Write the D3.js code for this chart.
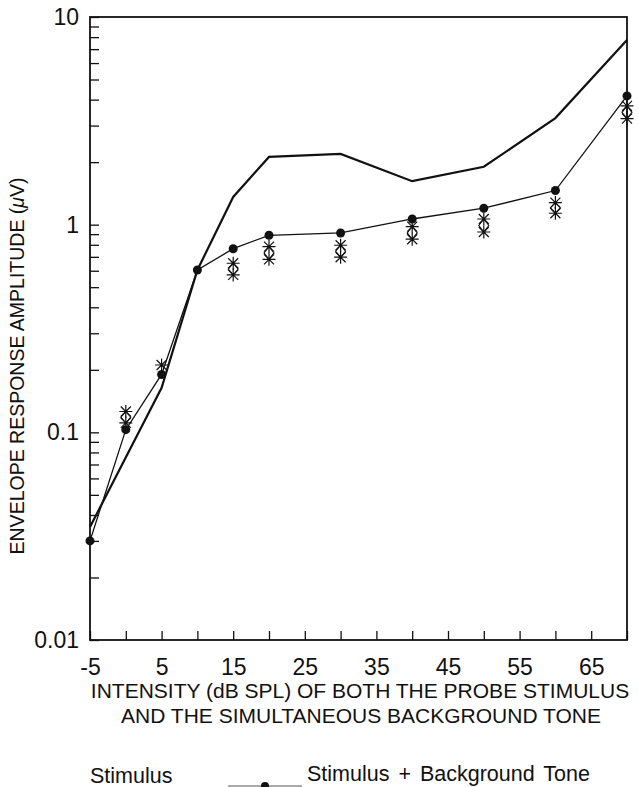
<!DOCTYPE html>
<html>
<head>
<meta charset="utf-8">
<script src="https://cdn.jsdelivr.net/npm/d3@7"></script>
<style>
  body { margin: 0; background: #fff; }
  svg text { font-family: "Liberation Sans", Arial, sans-serif; fill: #111; }
</style>
</head>
<body>
<div id="chart"></div>
<script>
// data
var intensity     = [-5, 0, 5, 10, 15, 20, 30, 40, 50, 60, 70];
var stimulus      = [0.035, null, 0.164, 0.605, 1.36, 2.12, 2.19, 1.62, 1.90, 3.26, 7.75];
var stimPlusTone  = [0.030, 0.103, 0.19, 0.605, 0.766, 0.889, 0.912, 1.065, 1.20, 1.46, 4.17];
var starX         = [0, 5, 15, 20, 30, 40, 50, 60, 70];
var starHigh      = [0.126, 0.211, 0.652, 0.784, 0.796, 0.978, 1.065, 1.277, 3.73];
var starLow       = [0.111, 0.211, 0.573, 0.681, 0.697, 0.851, 0.922, 1.135, 3.24];
var xTicks        = d3.range(-5, 71, 5);
var xLabels       = [-5, 5, 15, 25, 35, 45, 55, 65];
var yLabels       = [0.01, 0.1, 1, 10];

var W = 639, H = 787;
var margin = {top: 17, left: 90, right: 12, bottom: 147};
var width  = W - margin.left - margin.right,
    height = H - margin.top - margin.bottom;

var svg = d3.select("#chart").append("svg")
    .attr("width", W)
    .attr("height", H);

var g = svg.append("g")
    .attr("transform", "translate(" + margin.left + "," + margin.top + ")");

var x = d3.scaleLinear().domain([-5, 70]).range([0, width]);
var y = d3.scaleLog().domain([0.01, 10]).range([height, 0]);

// minor + major ticks on the log axis
var yTicks = [];
[0.01, 0.1, 1].forEach(function(d) {
  for (var k = 1; k <= 9; k++) yTicks.push(+(d * k).toPrecision(3));
});
yTicks.push(10);

var yAxis = g.append("g")
    .call(d3.axisLeft(y)
      .tickValues(yTicks)
      .tickSizeInner(-9)
      .tickSizeOuter(0)
      .tickPadding(11)
      .tickFormat(function(d) { return yLabels.indexOf(d) >= 0 ? String(d) : ""; }));
yAxis.select(".domain").remove();
yAxis.selectAll("line").attr("stroke", "#111").attr("stroke-width", 1.3);
yAxis.selectAll("text").style("font-size", "23px").attr("fill", "#111");

var xAxis = g.append("g")
    .attr("transform", "translate(0," + height + ")")
    .call(d3.axisBottom(x)
      .tickValues(xTicks)
      .tickSizeInner(-9)
      .tickSizeOuter(0)
      .tickPadding(19)
      .tickFormat(function(d) { return xLabels.indexOf(d) >= 0 ? String(d) : ""; }));
xAxis.select(".domain").remove();
xAxis.selectAll("line").attr("stroke", "#111").attr("stroke-width", 1.3);
xAxis.selectAll("text").style("font-size", "23px").attr("fill", "#111");

// frame
g.append("rect")
    .attr("width", width)
    .attr("height", height)
    .attr("fill", "none")
    .attr("stroke", "#111")
    .attr("stroke-width", 1.8);

// thick line: stimulus alone
var line = d3.line()
    .defined(function(d) { return d[1] != null; })
    .x(function(d) { return x(d[0]); })
    .y(function(d) { return y(d[1]); });

var stimData = intensity.map(function(d, i) { return [d, stimulus[i]]; })
    .filter(function(d) { return d[1] != null; });
g.append("path")
    .datum(stimData)
    .attr("d", line)
    .attr("fill", "none")
    .attr("stroke", "#111")
    .attr("stroke-width", 2.2);

// thin line with dots: stimulus + background tone
var toneData = intensity.map(function(d, i) { return [d, stimPlusTone[i]]; });
g.append("path")
    .datum(toneData)
    .attr("d", line)
    .attr("fill", "none")
    .attr("stroke", "#111")
    .attr("stroke-width", 1.3);

// asterisk / diamond markers
function asterisk(sel, cx, cy) {
  var r = 6.5, d = 5;
  sel.append("path")
    .attr("d", "M" + (cx - r) + "," + cy + "H" + (cx + r) +
               "M" + cx + "," + (cy - r) + "V" + (cy + r) +
               "M" + (cx - d) + "," + (cy - d) + "L" + (cx + d) + "," + (cy + d) +
               "M" + (cx - d) + "," + (cy + d) + "L" + (cx + d) + "," + (cy - d))
    .attr("stroke", "#111")
    .attr("stroke-width", 1.2)
    .attr("fill", "none");
}

var stars = g.append("g");
starX.forEach(function(v, i) {
  var cx = x(v), y1 = y(starHigh[i]), y2 = y(starLow[i]);
  if (y2 - y1 > 2) {
    var w = 5;
    stars.append("path")
      .attr("d", "M" + cx + "," + y1 + "L" + (cx + w) + "," + ((y1 + y2) / 2) +
                 "L" + cx + "," + y2 + "L" + (cx - w) + "," + ((y1 + y2) / 2) + "Z")
      .attr("fill", "none")
      .attr("stroke", "#111")
      .attr("stroke-width", 1.1);
    asterisk(stars, cx, y1);
    asterisk(stars, cx, y2);
  } else {
    asterisk(stars, cx, y1);
  }
});

g.append("g").selectAll("circle")
    .data(toneData)
    .enter().append("circle")
    .attr("cx", function(d) { return x(d[0]); })
    .attr("cy", function(d) { return y(d[1]); })
    .attr("r", 4.5)
    .attr("fill", "#111");

// axis titles
svg.append("text")
    .attr("transform", "translate(24,366) rotate(-90)")
    .attr("text-anchor", "middle")
    .style("font-size", "19.5px")
    .html('ENVELOPE RESPONSE AMPLITUDE (<tspan font-style="italic">μ</tspan>V)');

svg.append("text")
    .attr("x", 360).attr("y", 698)
    .attr("text-anchor", "middle")
    .style("font-size", "21px")
    .text("INTENSITY (dB SPL) OF BOTH THE PROBE STIMULUS");
svg.append("text")
    .attr("x", 361).attr("y", 723)
    .attr("text-anchor", "middle")
    .style("font-size", "21px")
    .text("AND THE SIMULTANEOUS BACKGROUND TONE");

// legend
svg.append("text")
    .attr("x", 90).attr("y", 783)
    .style("font-size", "21.5px")
    .text("Stimulus");
svg.append("text")
    .attr("x", 307).attr("y", 781)
    .style("font-size", "21.5px")
    .style("word-spacing", "3px")
    .text("Stimulus + Background Tone");
svg.append("line")
    .attr("x1", 228).attr("x2", 302)
    .attr("y1", 786).attr("y2", 786)
    .attr("stroke", "#555").attr("stroke-width", 1);
svg.append("circle")
    .attr("cx", 265).attr("cy", 786).attr("r", 4)
    .attr("fill", "#111");
</script>
</body>
</html>
